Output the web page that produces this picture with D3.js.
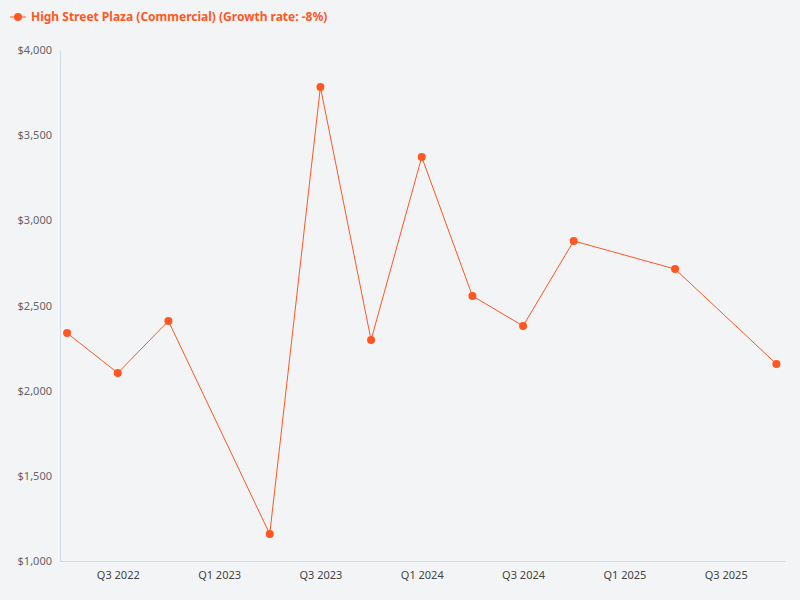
<!DOCTYPE html>
<html><head><meta charset="utf-8">
<script src="https://cdn.jsdelivr.net/npm/d3@7"></script>
<style>body{margin:0;background:#f3f4f6;font-family:"Noto Sans",sans-serif}</style>
</head><body><svg id="c" width="800" height="600"></svg>
<script>
const quarters = ["Q2 2022","Q3 2022","Q4 2022","Q1 2023","Q2 2023","Q3 2023","Q4 2023","Q1 2024","Q2 2024","Q3 2024","Q4 2024","Q1 2025","Q2 2025","Q3 2025","Q4 2025"];
const pointQuarters = [0,1,2,4,5,6,7,8,9,10,12,14];
const values = [2338,2104,2409,1158,3783,2297,3372,2556,2380,2879,2714,2157];
const tickQuarters = [1,3,5,7,9,11,13];
const yTicks = [1000,1500,2000,2500,3000,3500,4000];
const color = "#ff5722";

const svg = d3.select("#c");
const x = d3.scaleLinear().domain([-0.14, 14.17]).range([60, 785]);
const y = d3.scaleLinear().domain([1000, 4000]).range([561, 50]);

svg.append("g").attr("transform","translate(60,0)")
  .call(d3.axisLeft(y).tickValues(yTicks).tickSize(0).tickPadding(8).tickFormat(d=>"$"+d3.format(",")(d)))
  .call(g=>{g.select(".domain").attr("stroke","#cfdbe6");g.selectAll("text").attr("fill","#666").style("font-size","11px").style("font-family","Noto Sans")});
svg.append("g").attr("transform","translate(0,561)")
  .call(d3.axisBottom(x).tickValues(tickQuarters).tickSize(0).tickPadding(10).tickFormat(i=>quarters[i]))
  .call(g=>{g.select(".domain").attr("stroke","#cfdbe6");g.selectAll("text").attr("fill","#444").style("font-size","11px").style("font-family","Noto Sans")});

const pts = pointQuarters.map((q,i)=>({q, v: values[i]}));
svg.append("path").datum(pts).attr("fill","none").attr("stroke",color).attr("stroke-width",1)
  .attr("d", d3.line().x(d=>x(d.q)).y(d=>y(d.v)));
svg.selectAll("circle.p").data(pts).enter().append("circle").attr("class","p")
  .attr("cx",d=>x(d.q)).attr("cy",d=>y(d.v)).attr("r",4).attr("fill",color);

const lg = svg.append("g").attr("transform","translate(10,17)");
lg.append("line").attr("x1",0).attr("x2",16).attr("stroke",color).attr("stroke-width",1);
lg.append("circle").attr("cx",8).attr("r",4).attr("fill",color);
lg.append("text").attr("x",21).attr("dy","0.35em").attr("fill",color)
  .style("font-size","12px").style("font-weight","bold")
  .text("High Street Plaza (Commercial) (Growth rate: -8%)");
</script></body></html>
